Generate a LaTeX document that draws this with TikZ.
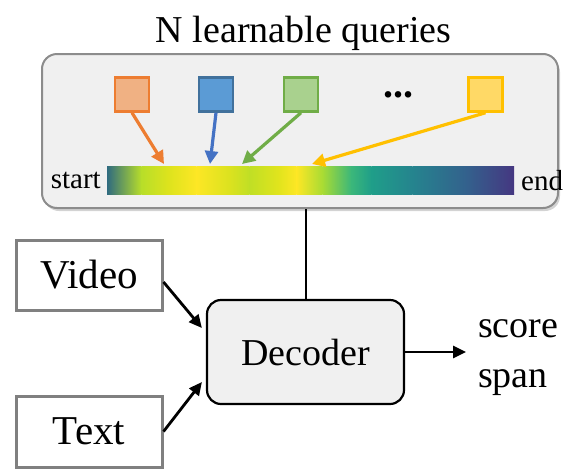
\documentclass[tikz,border=0pt]{standalone}
\usepackage{fontspec}
\setmainfont{Liberation Serif}
\usepackage{tikz}
\usetikzlibrary{positioning,arrows.meta,shadows}

\definecolor{qorange}{HTML}{ED7D31}
\definecolor{qorangefill}{HTML}{F0B183}
\definecolor{qblue}{HTML}{4472C4}
\definecolor{qbluedraw}{HTML}{41719C}
\definecolor{qbluefill}{HTML}{5B9BD5}
\definecolor{qgreen}{HTML}{70AD47}
\definecolor{qgreenfill}{HTML}{A9D18E}
\definecolor{qyellow}{HTML}{FFC000}
\definecolor{qyellowfill}{HTML}{FFD966}
\definecolor{panelgray}{HTML}{F0F0F0}

% viridis-like stops of the span bar
\definecolor{vA}{HTML}{2F6B80}
\definecolor{vB}{HTML}{B8DE29}
\definecolor{vC}{HTML}{DDE31D}
\definecolor{vD}{HTML}{FDE725}
\definecolor{vE}{HTML}{DCE21F}
\definecolor{vF}{HTML}{C0DF25}
\definecolor{vG}{HTML}{E0E41D}
\definecolor{vH}{HTML}{A8DB34}
\definecolor{vI}{HTML}{3BB77A}
\definecolor{vJ}{HTML}{1F9E89}
\definecolor{vK}{HTML}{25848E}
\definecolor{vL}{HTML}{33628D}
\definecolor{vM}{HTML}{453781}

\begin{document}
\begin{tikzpicture}[
		x=1pt, y=-1pt,
		big/.style={font=\fontsize{38}{50}\selectfont},
		small/.style={font=\fontsize{29}{34}\selectfont},
		query/.style n args={2}{rectangle, draw=#1, fill=#2, line width=2.5pt, minimum size=34pt, inner sep=0pt},
		input/.style={rectangle, draw=black!50, fill=white, line width=3pt, minimum width=146pt, minimum height=70pt, font=\fontsize{41}{50}\selectfont},
		qarrow/.style={-{Triangle[length=13pt, width=13pt]}, line width=3.2pt, draw=#1},
		arrow/.style={-{Triangle[length=13pt, width=12pt]}, line width=2.8pt}
		]
		\useasboundingbox (0,0) rectangle (569,469);
		
		%==================== Query panel ====================%
		\node[rectangle, rounded corners=15pt, draw=black!45, line width=2pt, fill=panelgray,
			drop shadow={opacity=0.35, shadow xshift=2pt, shadow yshift=-3pt},
			minimum width=516pt, minimum height=154pt] (panel) at (300,131) {};
		\node[big, anchor=base] (title) at (303.5,42) {N learnable queries};
		
		\node[query={qorange}{qorangefill}] (q1) at (132,94.5) {};
		\node[query={qbluedraw}{qbluefill}] (q2) at (216,94.5) {};
		\node[query={qgreen}{qgreenfill}] (q3) at (301,94.5) {};
		\node[query={qyellow}{qyellowfill}] (q4) at (485.5,94.5) {};
		\node[anchor=base, font=\fontsize{40}{40}\selectfont] (dots) at (398,97) {\textbf{...}};
		
		% span bar
		\node[rectangle, minimum width=407pt, minimum height=28pt, inner sep=0pt] (bar) at (310.5,180) {};
		\foreach \xa/\xb/\ca/\cb in {0/0.085/vA/vB, 0.085/0.15/vB/vC, 0.15/0.22/vC/vD, 0.22/0.30/vD/vE,
			0.30/0.35/vE/vF, 0.35/0.42/vF/vG, 0.42/0.466/vG/vD, 0.466/0.53/vD/vH, 0.53/0.60/vH/vI,
			0.60/0.65/vI/vJ, 0.65/0.75/vJ/vK, 0.75/0.88/vK/vL, 0.88/1/vL/vM}
			\shade[left color=\ca, right color=\cb] ({107+407*\xa},166) rectangle ({107+407*\xb},194);
		\node[small, anchor=base east, inner sep=0pt] (start) at (101,188) {start};
		\node[small, anchor=base west, inner sep=0pt] (end) at (521,190) {end};
		
		\coordinate (t1) at (164,164);
		\coordinate (t2) at (210,164);
		\coordinate (t3) at (242,164);
		\coordinate (t4) at (312,164);
		
		\draw[qarrow=qorange] (q1.south) -- (t1);
		\draw[qarrow=qblue] (q2.south) -- (t2);
		\draw[qarrow=qgreen] (q3.south) -- (t3);
		\draw[qarrow=qyellow] (q4.south) -- (t4);
		
		%==================== Decoder part ====================%
		\node[rectangle, rounded corners=14pt, draw=black, line width=2.2pt, fill=panelgray,
			minimum width=197pt, minimum height=104pt, big] (decoder) at (305.5,352) {Decoder};
		\node[input] (video) at (89,275) {Video};
		\node[input, minimum height=71pt] (text) at (89,431.5) {Text};
		\node[big, align=left, anchor=west, inner xsep=12pt] (out) at (466,358) {score\\span};
		
		\draw[line width=2pt] (decoder.north) -- (decoder.north |- panel.south);
		\draw[arrow] ([yshift=-7pt]video.east) -- ([xshift=-4pt, yshift=24pt]decoder.west);
		\draw[arrow] (text.east) -- ([xshift=-4pt, yshift=-30pt]decoder.west);
		\draw[arrow] (decoder.east) -- (decoder.east -| out.west);
		
	\end{tikzpicture}
\end{document}
